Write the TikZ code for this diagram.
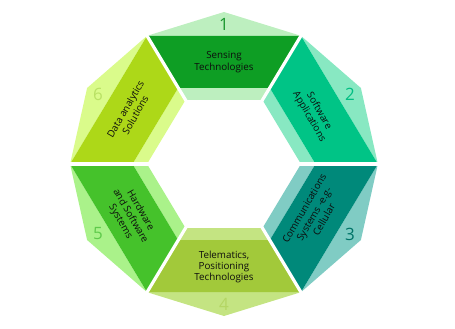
\documentclass[tikz,border=0pt]{standalone}
\usepackage{fontspec}
\setmainfont{Open Sans}
\usepackage{xcolor}
\usepackage{tikz}
\usetikzlibrary{calc, positioning}

\definecolor{mat1}{RGB}{14,158,36}
\definecolor{nhat1}{RGB}{189,239,191}
\definecolor{so1}{RGB}{25,150,45}
\definecolor{mat2}{RGB}{0,196,134}
\definecolor{nhat2}{RGB}{136,232,194}
\definecolor{so2}{RGB}{0,190,130}
\definecolor{mat3}{RGB}{0,137,122}
\definecolor{nhat3}{RGB}{128,204,196}
\definecolor{so3}{RGB}{0,115,103}
\definecolor{mat4}{RGB}{162,201,58}
\definecolor{nhat4}{RGB}{196,228,130}
\definecolor{so4}{RGB}{180,214,100}
\definecolor{mat5}{RGB}{69,194,43}
\definecolor{nhat5}{RGB}{170,242,138}
\definecolor{so5}{RGB}{95,202,75}
\definecolor{mat6}{RGB}{173,216,24}
\definecolor{nhat6}{RGB}{218,251,139}
\definecolor{so6}{RGB}{185,225,100}

\begin{document}
\begin{tikzpicture}[x=1.04pt, y=1pt,
    nhan/.style={align=center, text=black!95, inner sep=0pt, font=\fontsize{9.8}{11.4}\selectfont},
    so/.style={font=\fontsize{17}{17}\selectfont}]
    \useasboundingbox (-224pt,-165pt) rectangle (231pt,164pt);
    % 1. Các mảnh của vòng lục giác
    \foreach \a/\i in {90/1, 30/2, -30/3, -90/4, 210/5, 150/6} {
        \fill[nhat\i] (\a-30:148) -- (\a:152) -- (\a+30:148) -- cycle;
        \fill[nhat\i] (\a-30:88) -- (\a+30:88) -- (\a+30:74) -- (\a-30:74) -- cycle;
        \fill[mat\i] (\a-30:148) -- (\a+30:148) -- (\a+30:88) -- (\a-30:88) -- cycle;
    }
    % 2. Khe trắng giữa các mảnh
    \foreach \b in {0,60,...,300}
        \draw[white, line width=3.2pt] (\b:60) -- (\b:160);
    % 3. Chữ và số thứ tự
    \node[nhan] (t1) at (90:102) {Sensing\\Technologies};
    \node[nhan, rotate=-60] (t2) at (30:100) {Software\\Applications};
    \node[nhan, rotate=60] (t3) at (-30:100) {Communications\\Systems -e.g-\\Cellular};
    \node[nhan] (t4) at (-90:103) {Telematics,\\Positioning\\Technologies};
    \node[nhan, rotate=-60] (t5) at (210:104) {Hardware\\and Software\\Systems};
    \node[nhan, rotate=60] (t6) at (150:104) {Data analytics\\Solutions};
    \foreach \a/\i in {90/1, 30/2, -30/3, -90/4, 210/5, 150/6}
        \node[so, text=so\i] (n\i) at (\a:140) {\i};
\end{tikzpicture}
\end{document}
